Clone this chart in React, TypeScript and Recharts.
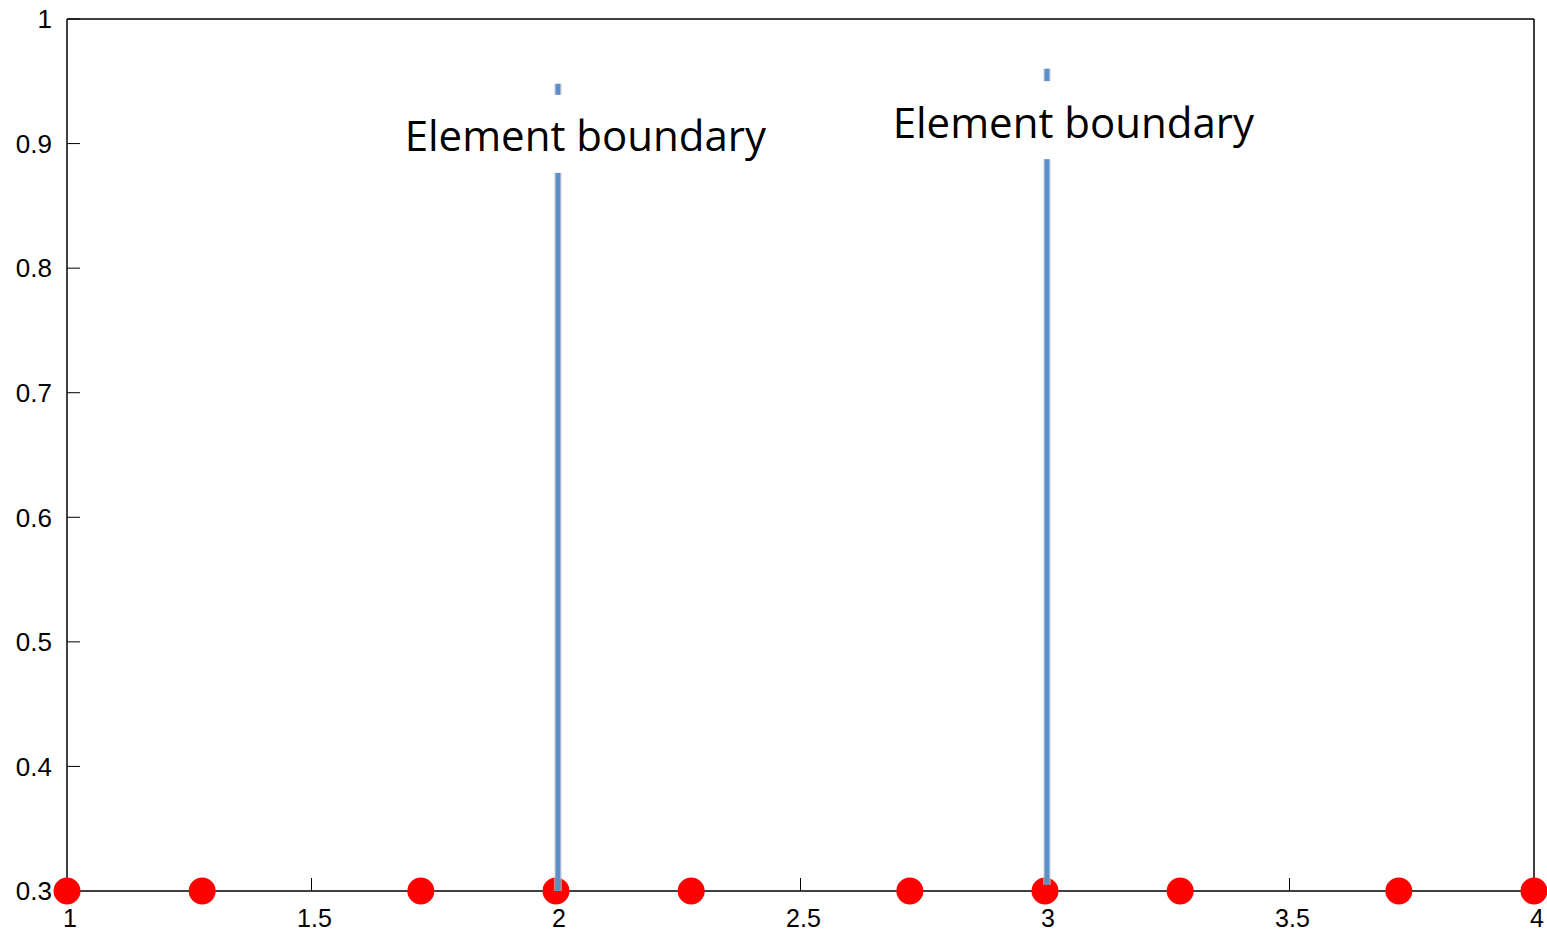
import React from 'react';
import { ScatterChart, Scatter, XAxis, YAxis } from 'recharts';

// node positions (two GLL-like elements + one more), all at y = 0.3
const nodeX = [1, 1.2764, 1.7236, 2, 2.2764, 2.7236, 3, 3.2764, 3.7236, 4];
const nodeY = [0.3, 0.3, 0.3, 0.3, 0.3, 0.3, 0.3, 0.3, 0.3, 0.3];

const xTicks = [1, 1.5, 2, 2.5, 3, 3.5, 4];
const yTicks = [0.3, 0.4, 0.5, 0.6, 0.7, 0.8, 0.9, 1];

// vertical boundary markers: x, bottom, top
const boundaryX = [2.004, 3.004];
const boundaryBottom = [0.3, 0.305];
const boundaryTop = [0.948, 0.96];

// labels: centre positions
const labelText = ['Element boundary', 'Element boundary'];
const labelX = [2.06, 3.058];
const labelY = [0.907, 0.918];

const nodes = nodeX.map((x, i) => ({ x, y: nodeY[i] }));
const boundaries = boundaryX.map((x, i) => [
  { x, y: boundaryBottom[i] },
  { x, y: boundaryTop[i] },
]);
const labels = labelX.map((x, i) => ({ x, y: labelY[i], text: labelText[i] }));

const tickFont = { fontSize: 26, fill: '#000', fontFamily: 'Liberation Sans, Arial, sans-serif' };

const NoShape = () => null;

const LabelShape = (props: any) => {
  const { cx, cy, payload } = props;
  return (
    <g>
      <rect x={cx - 190} y={cy - 40} width={380} height={78} fill="#fff" />
      <text
        x={cx}
        y={cy}
        textAnchor="middle"
        dominantBaseline="central"
        fontSize={42}
        fontFamily="Open Sans, sans-serif"
        fill="#000"
      >
        {payload.text}
      </text>
    </g>
  );
};

const App = () => {
  return (
    <div style={{ position: 'absolute', left: 0, top: 0, background: '#fff' }}>
      <ScatterChart width={1547} height={934} margin={{ top: 0, right: 0, bottom: 0, left: 0 }}>
        <XAxis
          xAxisId="bottom"
          type="number"
          dataKey="x"
          domain={[1, 4]}
          ticks={xTicks}
          height={43}
          tickSize={-13}
          tickMargin={31}
          tick={{ ...tickFont, fontSize: 25, dx: 3 }}
          axisLine={{ stroke: '#000', strokeWidth: 1.5 }}
          tickLine={{ stroke: '#000', strokeWidth: 1 }}
        />
        <XAxis
          xAxisId="top"
          orientation="top"
          type="number"
          dataKey="x"
          domain={[1, 4]}
          ticks={xTicks}
          height={19}
          tickSize={-13}
          tickFormatter={() => ''}
          axisLine={{ stroke: '#000', strokeWidth: 1.5 }}
          tickLine={{ stroke: '#000', strokeWidth: 1 }}
        />
        <YAxis
          yAxisId="left"
          type="number"
          dataKey="y"
          domain={[0.3, 1]}
          ticks={yTicks}
          width={67}
          tickSize={-13}
          tickMargin={28}
          tick={tickFont}
          axisLine={{ stroke: '#000', strokeWidth: 1.5 }}
          tickLine={{ stroke: '#000', strokeWidth: 1 }}
        />
        <YAxis
          yAxisId="right"
          orientation="right"
          type="number"
          dataKey="y"
          domain={[0.3, 1]}
          ticks={yTicks}
          width={13}
          tickSize={-13}
          tickFormatter={() => ''}
          axisLine={{ stroke: '#000', strokeWidth: 1.5 }}
          tickLine={{ stroke: '#000', strokeWidth: 1 }}
        />
        <Scatter
          xAxisId="bottom"
          yAxisId="left"
          data={nodes}
          fill="#ff0000"
          shape={(p: any) => <circle cx={p.cx} cy={p.cy} r={13.5} fill="#ff0000" />}
          isAnimationActive={false}
        />
        {boundaries.map((seg, i) => (
          <Scatter
            key={'sh' + i}
            xAxisId="bottom"
            yAxisId="left"
            data={seg}
            line={{ stroke: '#c9ced4', strokeWidth: 8, strokeOpacity: 0.6 }}
            lineType="joint"
            shape={NoShape}
            isAnimationActive={false}
          />
        ))}
        {boundaries.map((seg, i) => (
          <Scatter
            key={'b' + i}
            xAxisId="bottom"
            yAxisId="left"
            data={seg}
            line={{ stroke: '#5b8fc6', strokeWidth: 5 }}
            lineType="joint"
            shape={NoShape}
            isAnimationActive={false}
          />
        ))}
        <Scatter
          xAxisId="bottom"
          yAxisId="left"
          data={labels}
          shape={LabelShape}
          isAnimationActive={false}
        />
      </ScatterChart>
    </div>
  );
};

export default App;
